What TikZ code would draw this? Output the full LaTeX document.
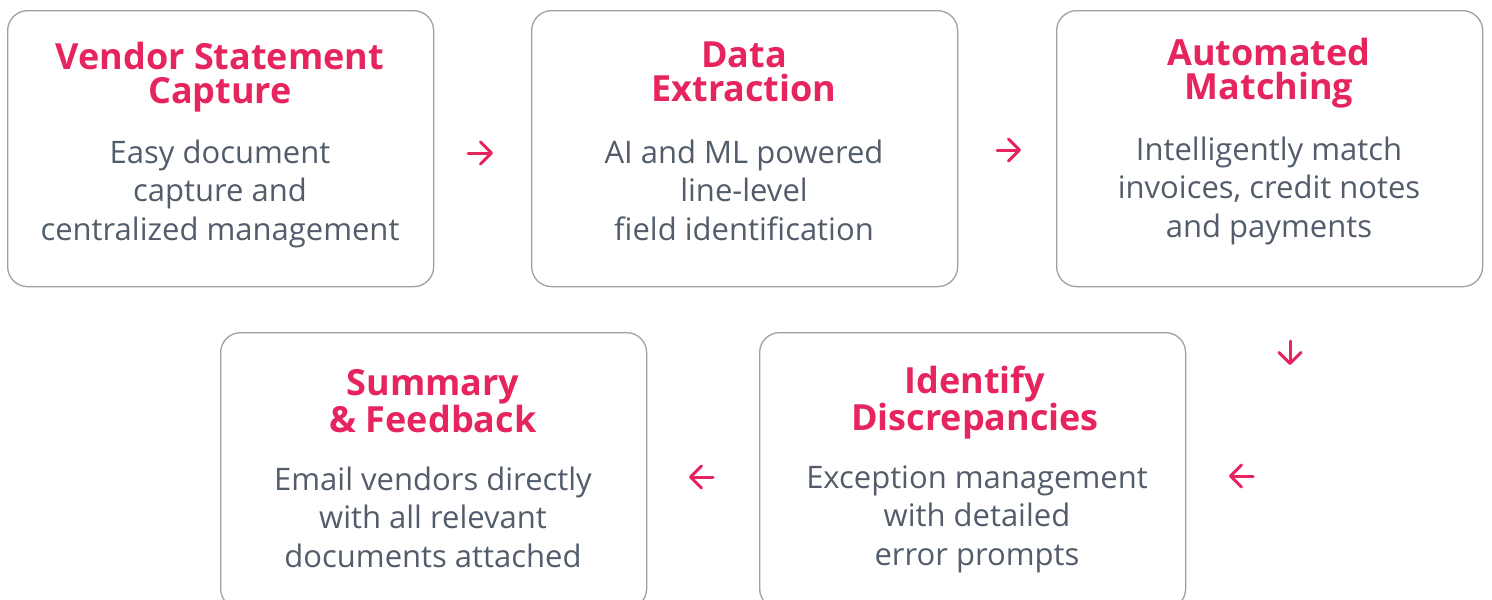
\documentclass[tikz,border=0pt]{standalone}
\usepackage{fontspec}
\setmainfont{Open Sans}
\usetikzlibrary{arrows.meta}
\definecolor{pinkc}{HTML}{E6245E}
\definecolor{bodyc}{HTML}{525C6B}
\definecolor{borderc}{HTML}{A0A0A0}
\tikzset{
 card/.style={draw=borderc, line width=1.3pt, rounded corners=20pt, minimum width=426pt, minimum height=276pt, inner sep=0pt, anchor=north west},
 ttl/.style={text=pinkc, font=\bfseries\fontsize{36}{34.5}\selectfont, align=center, anchor=base, inner sep=0pt},
 bdy/.style={text=bodyc, font=\fontsize{31}{38.5}\selectfont, align=center, anchor=base, inner sep=0pt},
 flow/.style={draw=pinkc, line width=3pt, line cap=round, -{Straight Barb[length=11pt,width=22pt,line cap=round,line join=round]}}
}
\begin{document}
\begin{tikzpicture}[x=1pt,y=-1pt]
\useasboundingbox (0,0) rectangle (1492,600);
% cards
\node[card] (b1) at (7,10) {};
\node[card] (b2) at (531,10) {};
\node[card] (b3) at (1056,10) {};
\node[card] (b4) at (220,332) {};
\node[card] (b5) at (759,332) {};
% titles (anchor = baseline of last line)
\node[ttl] (t1) at (220,103.5) {Vendor Statement\\Capture};
\node[ttl] (t2) at (744,101.5) {Data\\Extraction};
\node[ttl] (t3) at (1269,99.5) {Automated\\Matching};
\node[ttl] (t4) at (433,432.5) {Summary\\\& Feedback};
\node[ttl] (t5) at (975,430.5) {Identify\\Discrepancies};
% bodies (anchor = baseline of last line)
\node[bdy] (d1) at (220,240) {Easy document\\capture and\\centralized management};
\node[bdy] (d2) at (744,240) {AI and ML powered\\line-level\\field identification};
\node[bdy] (d3) at (1269,237) {Intelligently match\\invoices, credit notes\\and payments};
\node[bdy] (d4) at (433,567) {Email vendors directly\\with all relevant\\documents attached};
\node[bdy] (d5) at (977,565) {Exception management\\with detailed\\error prompts};
% connectors
\coordinate (a1s) at (468,153);
\coordinate (a1e) at (493,153);
\coordinate (a2s) at (997,150);
\coordinate (a2e) at (1021,150);
\coordinate (a3s) at (1290,341);
\coordinate (a3e) at (1290,365);
\coordinate (a4s) at (1253,476);
\coordinate (a4e) at (1229,476);
\coordinate (a5s) at (713,477);
\coordinate (a5e) at (689,477);
\draw[flow] (a1s) -- (a1e);
\draw[flow] (a2s) -- (a2e);
\draw[flow] (a3s) -- (a3e);
\draw[flow] (a4s) -- (a4e);
\draw[flow] (a5s) -- (a5e);
\end{tikzpicture}
\end{document}
